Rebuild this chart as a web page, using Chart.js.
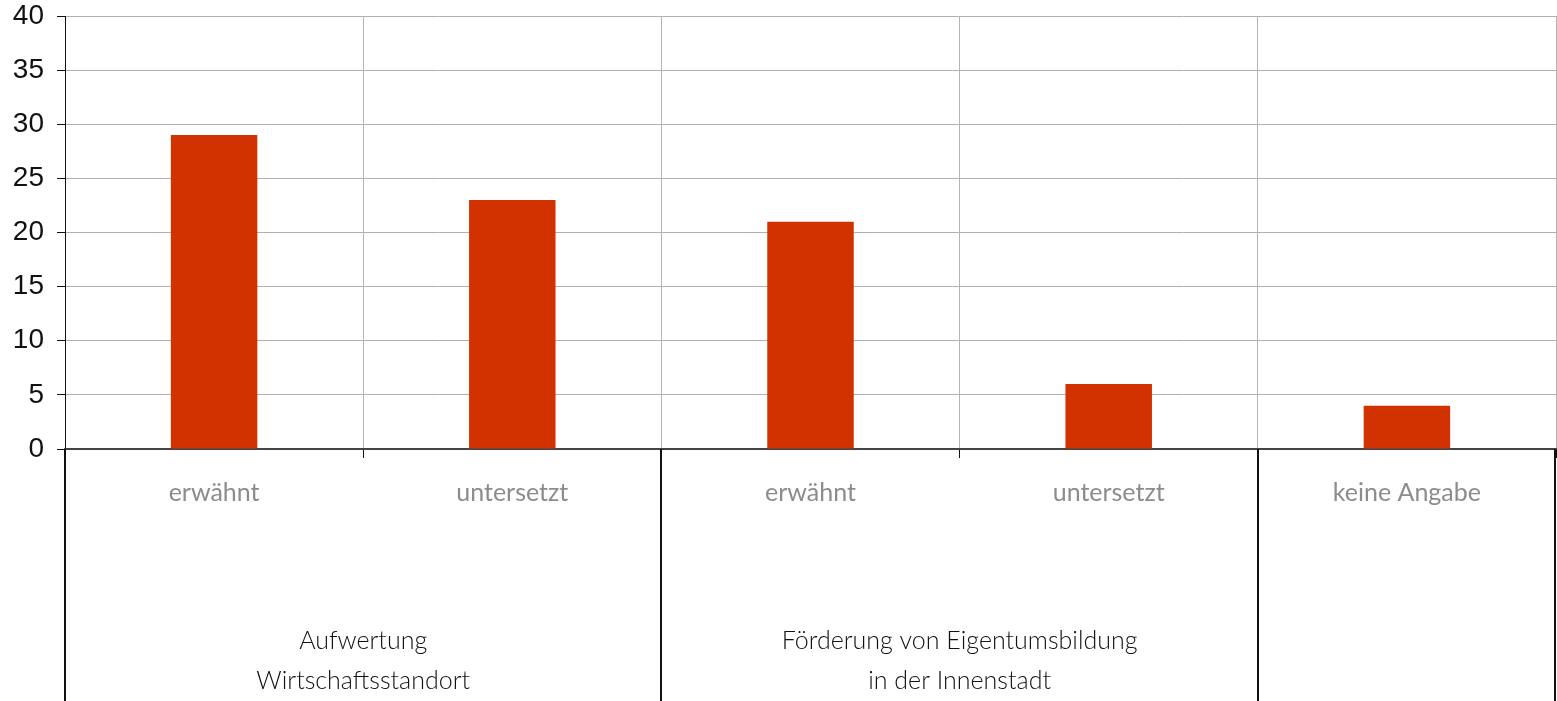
<!DOCTYPE html>
<html>
<head>
<meta charset="utf-8">
<script src="https://cdn.jsdelivr.net/npm/chart.js@4"></script>
<style>
  body { margin: 0; background: #fff; }
</style>
</head>
<body>
<canvas id="chart" width="1557" height="701"></canvas>
<script>
const categories = ['erwähnt', 'untersetzt', 'erwähnt', 'untersetzt', 'keine Angabe'];
const values = [29, 23, 21, 6, 4];
const groupLabels = [['Aufwertung', 'Wirtschaftsstandort'], ['Förderung von Eigentumsbildung', 'in der Innenstadt'], ['']];
const groupSpans = [2, 2, 1];

// group separators and group labels under the category labels
const groupPlugin = {
  id: 'groups',
  afterDraw(chart) {
    const ctx = chart.ctx;
    const x = chart.scales.x;
    const area = chart.chartArea;
    const edge = function(i) {
      if (i <= 0) return area.left;
      if (i >= categories.length) return area.right - 1;
      return (x.getPixelForValue(i - 1) + x.getPixelForValue(i)) / 2;
    };
    ctx.save();
    ctx.strokeStyle = '#111';
    ctx.lineWidth = 2;
    let start = 0;
    const bounds = [0];
    groupSpans.forEach(function(span) { start += span; bounds.push(start); });
    bounds.forEach(function(b) {
      const px = Math.round(edge(b));
      ctx.beginPath();
      ctx.moveTo(px, area.bottom);
      ctx.lineTo(px, chart.height);
      ctx.stroke();
    });
    ctx.fillStyle = '#111';
    ctx.font = '300 25px Lato';
    ctx.textAlign = 'center';
    ctx.textBaseline = 'middle';
    groupLabels.forEach(function(lines, g) {
      const cx = (edge(bounds[g]) + edge(bounds[g + 1])) / 2;
      lines.forEach(function(line, k) {
        ctx.fillText(line, cx, 641 + k * 40);
      });
    });
    ctx.restore();
  }
};

new Chart('chart', {
  type: 'bar',
  data: {
    labels: categories,
    datasets: [{
      data: values,
      backgroundColor: '#d23200',
      borderWidth: 0,
      barPercentage: 0.29,
      categoryPercentage: 1
    }]
  },
  options: {
    responsive: false,
    animation: false,
    layout: { padding: { top: 16, right: 1, left: 0, bottom: 0 } },
    plugins: { legend: { display: false }, tooltip: { enabled: false } },
    scales: {
      y: {
        min: 0,
        max: 40,
        ticks: {
          stepSize: 5,
          color: '#111',
          padding: 13,
          font: { family: 'Liberation Sans', size: 28 }
        },
        grid: { color: '#b0b0b0', tickColor: '#111', tickLength: 8 },
        border: { color: '#111', width: 1 },
        afterFit(scale) {
          scale.width = 65;
          scale.paddingTop = 0;
          scale.paddingBottom = 0;
        }
      },
      x: {
        offset: true,
        ticks: {
          color: '#8c8c8c',
          padding: 20,
          maxRotation: 0,
          autoSkip: false,
          font: { family: 'Lato', size: 25 }
        },
        grid: { color: '#b4b4b4', tickColor: '#111', tickLength: 9, offset: true },
        border: { color: '#444', width: 2 },
        afterFit(scale) { scale.height = 252; }
      }
    }
  },
  plugins: [groupPlugin]
});
</script>
</body>
</html>
